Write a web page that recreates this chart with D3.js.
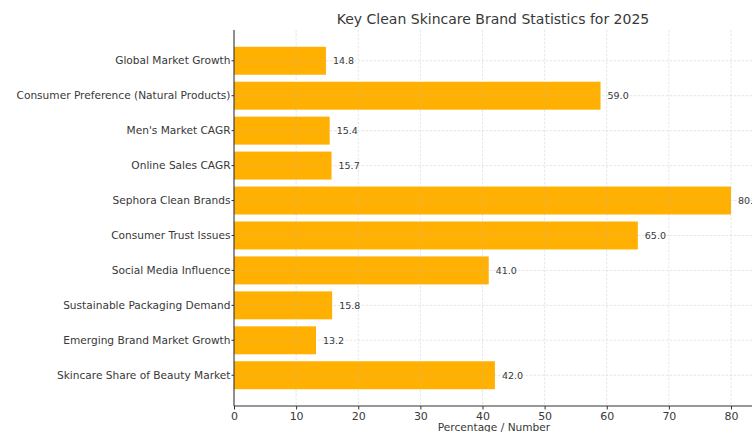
<!DOCTYPE html>
<html>
<head>
<meta charset="utf-8">
<script src="https://cdn.jsdelivr.net/npm/d3@7"></script>
<style>
  html, body { margin: 0; padding: 0; background: #fff; }
  svg { display: block; font-family: "DejaVu Sans", sans-serif; }
</style>
</head>
<body>
<svg id="chart" width="752" height="432"></svg>
<script>
const categories = [
  "Global Market Growth",
  "Consumer Preference (Natural Products)",
  "Men's Market CAGR",
  "Online Sales CAGR",
  "Sephora Clean Brands",
  "Consumer Trust Issues",
  "Social Media Influence",
  "Sustainable Packaging Demand",
  "Emerging Brand Market Growth",
  "Skincare Share of Beauty Market"
];
const values = [14.8, 59.0, 15.4, 15.7, 80.0, 65.0, 41.0, 15.8, 13.2, 42.0];
const xTicks = [0, 10, 20, 30, 40, 50, 60, 70, 80];
const titleText = "Key Clean Skincare Brand Statistics for 2025";
const xLabel = "Percentage / Number";

const svg = d3.select("#chart");
const margin = { left: 234, top: 30, bottom: 26 };
const width = 752, height = 432;
const plotBottom = height - margin.bottom;

const xMax = d3.max(values) * 1.05;
const x = d3.scaleLinear().domain([0, xMax]).range([margin.left, margin.left + (731 - 234) * xMax / 80]);

// Band positions follow a barh layout: unit step, bar height 0.8, 5% margins
const n = categories.length;
const lo = -0.4 - 0.049 * (n - 1 + 0.8), hi = (n - 1) + 0.4 + 0.049 * (n - 1 + 0.8);
const yPos = d3.scaleLinear().domain([hi, lo]).range([margin.top, plotBottom]);
const idx = i => n - 1 - i; // first category at the top
const step = Math.abs(yPos(1) - yPos(0));
const barH = step * 0.8;

const color = "#FFB000";
const textColor = "#383838";

// bars
svg.append("g").selectAll("rect").data(values).join("rect")
  .attr("x", x(0))
  .attr("y", (d, i) => yPos(idx(i)) - barH / 2)
  .attr("width", d => x(d) - x(0))
  .attr("height", barH)
  .attr("fill", color);

// dashed grid drawn over bars, translucent
const grid = svg.append("g").attr("stroke", "#b8b8b8").attr("stroke-opacity", 0.45)
  .attr("stroke-dasharray", "2.5,1.5").attr("stroke-width", 0.8);
grid.selectAll("line.v").data(xTicks.filter(t => t > 0)).join("line")
  .attr("x1", d => x(d)).attr("x2", d => x(d))
  .attr("y1", margin.top).attr("y2", plotBottom);
grid.selectAll("line.h").data(values).join("line")
  .attr("x1", x(0)).attr("x2", width)
  .attr("y1", (d, i) => yPos(idx(i))).attr("y2", (d, i) => yPos(idx(i)));

// value labels
svg.append("g").selectAll("text").data(values).join("text")
  .attr("x", d => x(d) + 7)
  .attr("y", (d, i) => yPos(idx(i)))
  .attr("dy", "0.35em")
  .attr("font-size", 9.5)
  .attr("fill", textColor)
  .text(d => d.toFixed(1));

// x axis
const xAxis = svg.append("g").attr("transform", `translate(0,${plotBottom})`)
  .call(d3.axisBottom(x).tickValues(xTicks).tickSize(3.5).tickPadding(2.5).tickFormat(d3.format("d")));
xAxis.select(".domain").attr("stroke", "#333").attr("stroke-width", 1.1)
  .attr("d", `M${x(0)},0H${width + 10}`);
xAxis.selectAll(".tick line").attr("stroke", "#333");
xAxis.selectAll(".tick text").attr("font-size", 11).attr("fill", textColor)
  .attr("font-family", "DejaVu Sans, sans-serif");

// y axis
const yAxis = svg.append("g").attr("transform", `translate(${x(0)},0)`);
yAxis.append("line").attr("x1", 0).attr("x2", 0).attr("y1", margin.top).attr("y2", plotBottom)
  .attr("stroke", "#333").attr("stroke-width", 1.1);
const yt = yAxis.selectAll("g.tick").data(categories).join("g")
  .attr("transform", (d, i) => `translate(0,${yPos(idx(i))})`);
yt.append("line").attr("x1", -2.5).attr("x2", 0).attr("stroke", "#333");
yt.append("text").attr("x", -3.5).attr("dy", "0.35em").attr("text-anchor", "end")
  .attr("font-size", 10.6).attr("fill", textColor).text(d => d);

// title and axis label
svg.append("text").attr("x", 493).attr("y", 24).attr("text-anchor", "middle")
  .attr("font-size", 14).attr("fill", textColor).text(titleText);
svg.append("text").attr("x", 494).attr("y", 431).attr("text-anchor", "middle")
  .attr("font-size", 10.6).attr("fill", textColor).text(xLabel);
</script>
</body>
</html>
